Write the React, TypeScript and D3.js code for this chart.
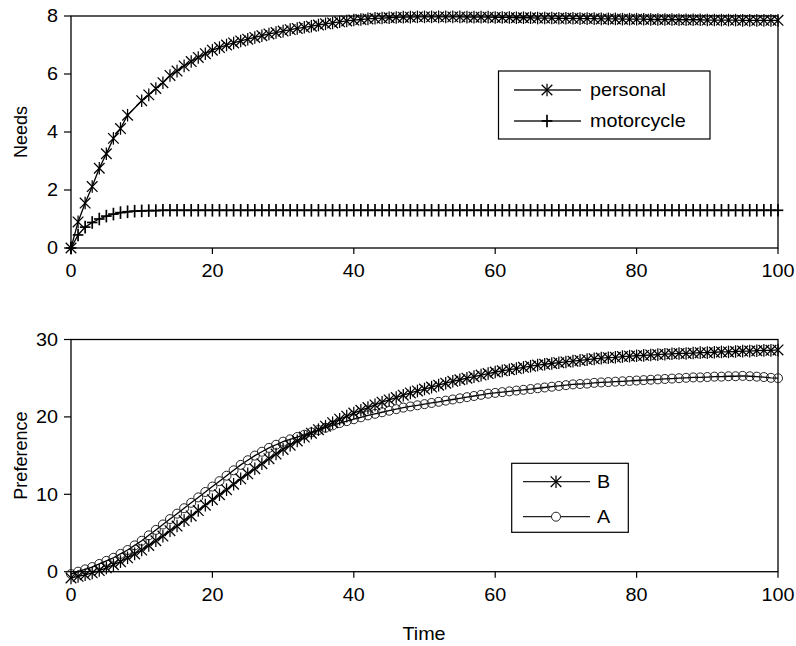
import React from "react";
import * as d3 from "d3";

// ---- Data ----
const time: number[] = d3.range(0, 101);

const personal: (number | null)[] = [
  0, 0.9, 1.55, 2.12, 2.75, 3.25, 3.78, 4.12, 4.58, null,
  5.08, 5.28, 5.5, 5.7, 5.95, 6.1, 6.28, 6.43, 6.57, 6.7,
  6.82, 6.91, 7.0, 7.07, 7.14, 7.2, 7.26, 7.32, 7.38, 7.43,
  7.48, 7.53, 7.57, 7.61, 7.65, 7.69, 7.73, 7.76, 7.8, 7.83,
  7.86, 7.88, 7.9, 7.92, 7.93, 7.94, 7.95, 7.96, 7.96, 7.97,
  7.97, 7.97, 7.97, 7.97, 7.97, 7.97, 7.96, 7.96, 7.96, 7.96,
  7.95, 7.95, 7.95, 7.94, 7.94, 7.94, 7.93, 7.93, 7.93, 7.92,
  7.92, 7.92, 7.91, 7.91, 7.91, 7.9, 7.9, 7.9, 7.89, 7.89,
  7.89, 7.89, 7.88, 7.88, 7.88, 7.88, 7.87, 7.87, 7.87, 7.87,
  7.86, 7.86, 7.86, 7.86, 7.86, 7.85, 7.85, 7.85, 7.85, 7.85,
  7.85,
];

const motorcycle: number[] = [
  0, 0.45, 0.72, 0.88, 1.0, 1.1, 1.17, 1.22, 1.25, 1.27,
  1.28, 1.29, 1.29, 1.3, 1.3, 1.3, 1.3, 1.3, 1.3, 1.3,
  1.3, 1.3, 1.3, 1.3, 1.3, 1.3, 1.3, 1.3, 1.3, 1.3,
  1.3, 1.3, 1.3, 1.3, 1.3, 1.3, 1.3, 1.3, 1.3, 1.3,
  1.3, 1.3, 1.3, 1.3, 1.3, 1.3, 1.3, 1.3, 1.3, 1.3,
  1.3, 1.3, 1.3, 1.3, 1.3, 1.3, 1.3, 1.3, 1.3, 1.3,
  1.3, 1.3, 1.3, 1.3, 1.3, 1.3, 1.3, 1.3, 1.3, 1.3,
  1.3, 1.3, 1.3, 1.3, 1.3, 1.3, 1.3, 1.3, 1.3, 1.3,
  1.3, 1.3, 1.3, 1.3, 1.3, 1.3, 1.3, 1.3, 1.3, 1.3,
  1.3, 1.3, 1.3, 1.3, 1.3, 1.3, 1.3, 1.3, 1.3, 1.3,
  1.3,
];

const prefB: number[] = [
  -0.8, -0.6, -0.4, -0.15, 0.15, 0.5, 0.9, 1.3, 1.8, 2.3,
  2.8, 3.4, 4.0, 4.6, 5.3, 5.9, 6.6, 7.2, 7.9, 8.6,
  9.3, 9.95, 10.6, 11.3, 12.0, 12.65, 13.3, 13.95, 14.6, 15.2,
  15.8, 16.35, 16.9, 17.4, 17.9, 18.35, 18.8, 19.25, 19.7, 20.1,
  20.5, 20.85, 21.2, 21.55, 21.9, 22.2, 22.5, 22.8, 23.1, 23.35,
  23.6, 23.85, 24.1, 24.35, 24.6, 24.8, 25.0, 25.2, 25.4, 25.6,
  25.8, 25.95, 26.1, 26.25, 26.4, 26.55, 26.7, 26.8, 26.9, 27.0,
  27.1, 27.2, 27.3, 27.4, 27.5, 27.6, 27.65, 27.7, 27.8, 27.85,
  27.9, 27.95, 28.0, 28.05, 28.1, 28.15, 28.2, 28.2, 28.25, 28.3,
  28.3, 28.35, 28.4, 28.4, 28.45, 28.5, 28.5, 28.55, 28.6, 28.6,
  28.65,
];

const prefA: number[] = [
  -0.3, 0.0, 0.3, 0.6, 1.0, 1.4, 1.8, 2.3, 2.8, 3.4,
  4.0, 4.7, 5.4, 6.1, 6.8, 7.5, 8.2, 8.9, 9.6, 10.3,
  11.0, 11.7, 12.4, 13.1, 13.8, 14.4, 15.0, 15.5, 16.0, 16.4,
  16.8, 17.1, 17.4, 17.7, 18.0, 18.3, 18.6, 18.9, 19.2, 19.45,
  19.7, 19.95, 20.2, 20.4, 20.6, 20.8, 21.0, 21.2, 21.35, 21.5,
  21.65, 21.8, 21.95, 22.1, 22.25, 22.4, 22.55, 22.7, 22.85, 23.0,
  23.1, 23.2, 23.3, 23.4, 23.5, 23.6, 23.7, 23.8, 23.9, 24.0,
  24.1, 24.2, 24.25, 24.3, 24.4, 24.45, 24.5, 24.55, 24.6, 24.65,
  24.7, 24.75, 24.8, 24.85, 24.9, 24.95, 25.0, 25.05, 25.1, 25.1,
  25.15, 25.2, 25.2, 25.25, 25.25, 25.3, 25.25, 25.2, 25.15, 25.05,
  25.0,
];

const xTicks: number[] = [0, 20, 40, 60, 80, 100];
const needsTicks: number[] = [0, 2, 4, 6, 8];
const prefTicks: number[] = [0, 10, 20, 30];

const FONT = "'Liberation Sans', Arial, sans-serif";
const FS = 18;
const SX = 1.1; // horizontal stretch of the horizontal texts

function HText({
  x, y, anchor = "start", children,
}: { x: number; y: number; anchor?: "start" | "middle" | "end"; children: React.ReactNode }) {
  return (
    <text
      transform={`translate(${x},${y}) scale(${SX},1)`}
      dy="0.36em"
      textAnchor={anchor}
      fontFamily={FONT}
      fontSize={FS}
      fill="#000"
    >
      {children}
    </text>
  );
}

type Marker = "asterisk" | "plus" | "circle";

function MarkerShape({ kind, x, y, fill }: { kind: Marker; x: number; y: number; fill?: string }) {
  const s = 5.3;
  if (kind === "asterisk") {
    return (
      <g stroke="#000" strokeWidth={1.25}>
        <line x1={x - s} y1={y - s} x2={x + s} y2={y + s} />
        <line x1={x - s} y1={y + s} x2={x + s} y2={y - s} />
        <line x1={x} y1={y - s - 1} x2={x} y2={y + s + 1} />
      </g>
    );
  }
  if (kind === "plus") {
    return (
      <g stroke="#000" strokeWidth={1.7}>
        <line x1={x - s} y1={y} x2={x + s} y2={y} />
        <line x1={x} y1={y - s - 1} x2={x} y2={y + s + 1} />
      </g>
    );
  }
  return <circle cx={x} cy={y} r={4.5} fill={fill ?? "none"} stroke="#222" strokeWidth={1} />;
}

function Series({
  xs, ys, x, y, marker,
}: {
  xs: number[]; ys: (number | null)[]; x: d3.ScaleLinear<number, number>; y: d3.ScaleLinear<number, number>; marker: Marker;
}) {
  const pts = xs.map((t, i) => [t, ys[i]] as [number, number | null]).filter((p) => p[1] !== null) as [number, number][];
  const line = d3.line<[number, number]>().x((d) => x(d[0])).y((d) => y(d[1]));
  return (
    <g>
      <path d={line(pts) ?? ""} fill="none" stroke="#000" strokeWidth={1.3} />
      {pts.map((p, i) => (
        <MarkerShape key={i} kind={marker} x={x(p[0])} y={y(p[1])} />
      ))}
    </g>
  );
}

function makePanel(top: number, bottom: number, yDomain: [number, number], yTicks: number[], yLabel: string) {
  const left = 71;
  const right = 778;
  const x = d3.scaleLinear().domain([0, 100]).range([left, right]);
  const y = d3.scaleLinear().domain(yDomain).range([bottom, top]);
  return { x, y, left, right, top, bottom, yTicks, yLabel };
}

function Axes({ p }: { p: ReturnType<typeof makePanel> }) {
  const { x, y, left, right, top, bottom, yTicks, yLabel } = p;
  return (
    <g>
      <rect x={left} y={top} width={right - left} height={bottom - top} fill="none" stroke="#000" strokeWidth={1.3} />
      {yTicks.map((t) => (
        <g key={"y" + t}>
          <line x1={left - 7} x2={left} y1={y(t)} y2={y(t)} stroke="#000" strokeWidth={1.2} />
          <HText x={left - 13} y={y(t)} anchor="end">{t}</HText>
        </g>
      ))}
      {xTicks.map((t) => (
        <g key={"x" + t}>
          <line x1={x(t)} x2={x(t)} y1={bottom} y2={bottom + 6} stroke="#000" strokeWidth={1.2} />
          <HText x={x(t)} y={bottom + 23} anchor="middle">{t}</HText>
        </g>
      ))}
      <text
        transform={`translate(${27},${(top + bottom) / 2}) rotate(-90)`}
        textAnchor="middle"
        fontFamily={FONT}
        fontSize={FS}
      >
        {yLabel}
      </text>
    </g>
  );
}

type LegendItem = { label: string; marker: Marker; y: number; lx1: number; lx2: number; mx: number; tx: number };

function Legend({ x0, y0, w, h, items }: { x0: number; y0: number; w: number; h: number; items: LegendItem[] }) {
  return (
    <g>
      <rect x={x0} y={y0} width={w} height={h} fill="#fff" stroke="#000" strokeWidth={1.2} />
      {items.map((it) => (
        <g key={it.label}>
          <line x1={it.lx1} x2={it.lx2} y1={it.y} y2={it.y} stroke="#222" strokeWidth={1.3} />
          <MarkerShape kind={it.marker} x={it.mx} y={it.y} fill="#fff" />
          <HText x={it.tx} y={it.y}>{it.label}</HText>
        </g>
      ))}
    </g>
  );
}

export default function App() {
  const p1 = makePanel(16, 248, [0, 8], needsTicks, "Needs");
  const p2 = makePanel(339.5, 571.7, [0, 30], prefTicks, "Preference");
  return (
    <svg width={796} height={646} style={{ position: "absolute", left: 0, top: 0, background: "#fff" }}>
      <rect width={796} height={646} fill="#fff" />
      <Axes p={p1} />
      <Series xs={time} ys={motorcycle} x={p1.x} y={p1.y} marker="plus" />
      <Series xs={time} ys={personal} x={p1.x} y={p1.y} marker="asterisk" />
      <Legend
        x0={498.5} y0={71} w={211.5} h={68}
        items={[
          { label: "personal", marker: "asterisk", y: 90, lx1: 514, lx2: 581, mx: 547, tx: 590 },
          { label: "motorcycle", marker: "plus", y: 121, lx1: 514, lx2: 581, mx: 547, tx: 590 },
        ]}
      />
      <Axes p={p2} />
      <Series xs={time} ys={prefA} x={p2.x} y={p2.y} marker="circle" />
      <Series xs={time} ys={prefB} x={p2.x} y={p2.y} marker="asterisk" />
      <Legend
        x0={511.7} y0={463.3} w={116.6} h={69}
        items={[
          { label: "B", marker: "asterisk", y: 481.7, lx1: 523, lx2: 590, mx: 556, tx: 597 },
          { label: "A", marker: "circle", y: 516.7, lx1: 523, lx2: 590, mx: 556, tx: 597 },
        ]}
      />
      <HText x={424} y={634} anchor="middle">Time</HText>
    </svg>
  );
}
